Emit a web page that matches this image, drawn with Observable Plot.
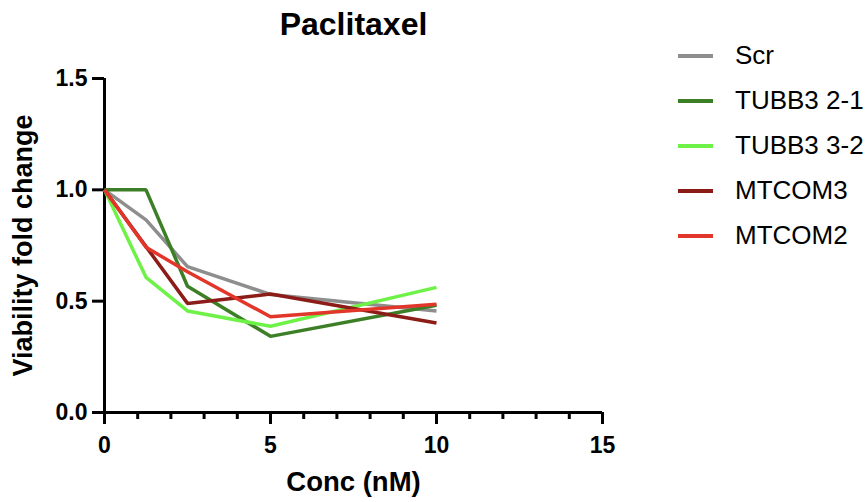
<!DOCTYPE html>
<html>
<head>
<meta charset="utf-8">
<script src="https://cdn.jsdelivr.net/npm/d3@7"></script>
<script src="https://cdn.jsdelivr.net/npm/@observablehq/plot@0.6"></script>
<style>
  html, body { margin: 0; padding: 0; background: #fff; }
  #wrap { position: relative; width: 867px; height: 502px; font-family: "Liberation Sans", Arial, sans-serif; }
  #legend { position: absolute; left: 678px; top: 33px; }
  .row { display: flex; align-items: center; height: 45px; font-size: 26px; color: #000; }
  .row svg { margin-right: 22px; }
</style>
</head>
<body>
<div id="wrap"></div>
<script>
const conc = [0, 1.25, 2.5, 5, 10];
const series = ["Scr", "TUBB3 2-1", "TUBB3 3-2", "MTCOM3", "MTCOM2"];
const colors = ["#8e8e8e", "#3d7f26", "#6ef247", "#8b1c17", "#e2362b"];
const scr      = [1.0, 0.865, 0.655, 0.53, 0.456];
const tubb3_21 = [1.0, 1.0, 0.567, 0.342, 0.482];
const tubb3_32 = [1.0, 0.607, 0.456, 0.387, 0.562];
const mtcom3   = [1.0, 0.745, 0.49, 0.532, 0.402];
const mtcom2   = [1.0, 0.742, 0.632, 0.43, 0.486];
const values = [scr, tubb3_21, tubb3_32, mtcom3, mtcom2];
const xMajor = [0, 5, 10, 15];
const xMinor = d3.range(0, 16, 1);
const yTicks = [0, 0.5, 1.0, 1.5];

const data = series.flatMap((s, i) => conc.map((c, j) => ({series: s, conc: c, value: values[i][j]})));

const font = "Liberation Sans, Arial, sans-serif";
const chart = Plot.plot({
  width: 867,
  height: 502,
  marginLeft: 104,
  marginRight: 265,
  marginTop: 78,
  marginBottom: 90,
  style: {fontFamily: font, background: "#fff", color: "#000"},
  x: {domain: [0, 15]},
  y: {domain: [0, 1.5]},
  color: {domain: series, range: colors},
  marks: [
    Plot.axisX({ticks: xMinor, tickSize: 7, strokeWidth: 3, text: null, label: null}),
    Plot.axisX({ticks: xMajor, tickSize: 12, strokeWidth: 3, tickPadding: 12, fontSize: 23, fontWeight: "bold", label: null}),
    Plot.axisY({ticks: yTicks, tickSize: 12, strokeWidth: 3, tickPadding: 5, tickFormat: d3.format(".1f"), fontSize: 23, fontWeight: "bold", label: null}),
    Plot.ruleY([0], {stroke: "#000", strokeWidth: 3}),
    Plot.ruleX([0], {stroke: "#000", strokeWidth: 3}),
    Plot.line(data, {x: "conc", y: "value", z: "series", stroke: "series", strokeWidth: 3.5, strokeLinejoin: "miter", strokeLinecap: "butt"}),
    Plot.text(["Paclitaxel"], {frameAnchor: "top", lineAnchor: "middle", dy: -54, fontSize: 32, fontWeight: "bold", fill: "#000"}),
    Plot.text(["Viability fold change"], {frameAnchor: "left", textAnchor: "middle", dx: -81, rotate: -90, fontSize: 27, fontWeight: "bold", fill: "#000"}),
    Plot.text(["Conc (nM)"], {frameAnchor: "bottom", lineAnchor: "middle", dy: 70, fontSize: 27.5, fontWeight: "bold", fill: "#000"})
  ]
});

const wrap = document.getElementById("wrap");
wrap.appendChild(chart);

const legend = document.createElement("div");
legend.id = "legend";
series.forEach((s, i) => {
  const row = document.createElement("div");
  row.className = "row";
  row.innerHTML = `<svg width="35" height="6"><line x1="0" x2="35" y1="3" y2="3" stroke="${colors[i]}" stroke-width="4"/></svg><span>${s}</span>`;
  legend.appendChild(row);
});
wrap.appendChild(legend);
</script>
</body>
</html>
